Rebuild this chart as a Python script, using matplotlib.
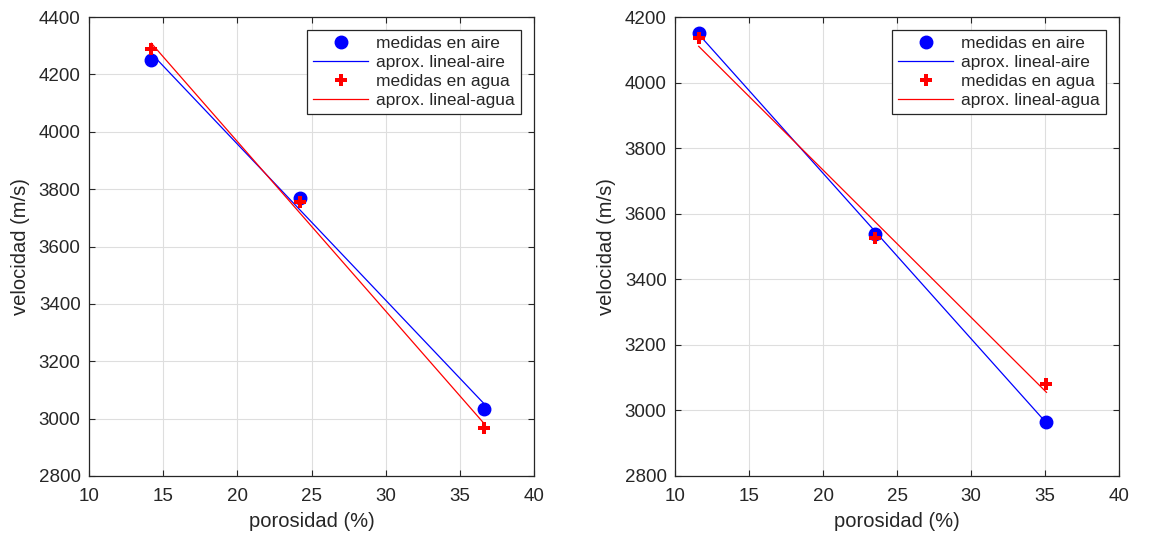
import numpy as np
import matplotlib
matplotlib.use("Agg")
import matplotlib.pyplot as plt

plt.rcParams['font.family'] = ['Liberation Sans', 'DejaVu Sans']

# datos figura izquierda
por_izq = [14.2, 24.2, 36.6]
vel_aire_izq = [4250, 3770, 3035]
vel_agua_izq = [4288, 3755, 2968]

# datos figura derecha
por_der = [11.6, 23.5, 35.1]
vel_aire_der = [4152, 3538, 2966]
vel_agua_der = [4135, 3527, 3080]

xticks = [10, 15, 20, 25, 30, 35, 40]
yticks_izq = [2800, 3000, 3200, 3400, 3600, 3800, 4000, 4200, 4400]
yticks_der = [2800, 3000, 3200, 3400, 3600, 3800, 4000, 4200]

gris = '#262626'

fig = plt.figure(figsize=(11.49, 5.33), dpi=100)
ax1 = fig.add_axes([0.0775, 0.107, 0.3873, 0.861])
ax2 = fig.add_axes([0.5875, 0.107, 0.3864, 0.861])


def dibujar(ax, x, va, vw, yticks):
    x = np.array(x)
    pa = np.polyfit(x, va, 1)
    pw = np.polyfit(x, vw, 1)
    ax.plot(x, va, 'o', color='blue', markersize=9, label='medidas en aire', zorder=3)
    ax.plot(x, np.polyval(pa, x), '-', color='blue', lw=0.9, label='aprox. lineal-aire')
    ax.plot(x, vw, 'P', color='red', markersize=9, markeredgewidth=0, label='medidas en agua', zorder=3)
    ax.plot(x, np.polyval(pw, x), '-', color='red', lw=0.9, label='aprox. lineal-agua')
    ax.set_xlim(10, 40)
    ax.set_ylim(yticks[0], yticks[-1])
    ax.set_xticks(xticks)
    ax.set_yticks(yticks)
    ax.grid(True, color='#dedede', lw=0.8)
    ax.set_axisbelow(True)
    ax.tick_params(direction='in', length=4, labelsize=13.5, colors=gris, top=True, right=True,
                   labeltop=False, labelright=False)
    ax.tick_params(axis='x', pad=8.5)
    ax.tick_params(axis='y', pad=6)
    for s in ax.spines.values():
        s.set_color(gris)
        s.set_linewidth(0.9)
    ax.set_xlabel('porosidad (%)', fontsize=14.5, color=gris, labelpad=5)
    ax.set_ylabel('velocidad (m/s)', fontsize=14.5, color=gris, labelpad=6)
    leg = ax.legend(loc='upper right', fontsize=12.5, fancybox=False, framealpha=1,
                    edgecolor=gris, handlelength=3.2, handletextpad=0.45, borderpad=0.35,
                    labelspacing=0.22, borderaxespad=0.75)
    leg.get_frame().set_linewidth(0.9)
    for t in leg.get_texts():
        t.set_color(gris)


dibujar(ax1, por_izq, vel_aire_izq, vel_agua_izq, yticks_izq)
dibujar(ax2, por_der, vel_aire_der, vel_agua_der, yticks_der)

fig.savefig('out.png', dpi=100)
